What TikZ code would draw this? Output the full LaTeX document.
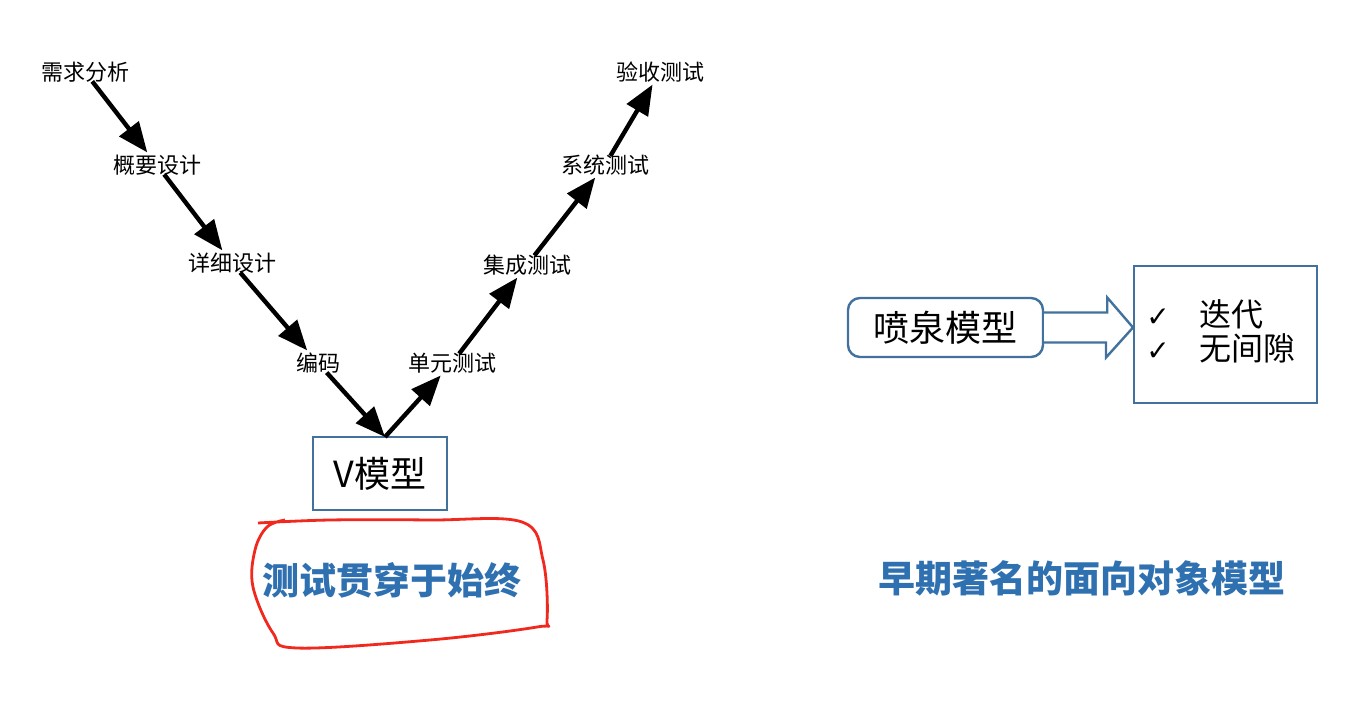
\documentclass[tikz,border=0pt]{standalone}
\usepackage{fontspec}
\setmainfont{Noto Sans CJK SC}
\newfontfamily\symfont{DejaVu Sans}
\usetikzlibrary{arrows.meta}
\definecolor{boxblue}{RGB}{65,113,156}
\definecolor{capblue}{RGB}{46,112,176}
\definecolor{penred}{RGB}{240,40,30}
\tikzset{
  stage/.style={font=\fontsize{11}{12}\selectfont, inner sep=1pt},
  arr/.style={line width=2.2pt, -{Triangle[length=15pt,width=12pt]}, shorten <=-2pt, shorten >=0pt},
  bluebox/.style={draw=boxblue, line width=1.2pt},
  caption/.style={font=\fontsize{18.5}{20}\selectfont\bfseries, text=capblue}
}
\begin{document}
\begin{tikzpicture}[x=0.5pt,y=-0.5pt]
\useasboundingbox (0,0) rectangle (1358,710);
% V model stages
\node[stage] (req) at (85,72) {需求分析};
\node[stage] (hl) at (157,165) {概要设计};
\node[stage] (dd) at (232,263) {详细设计};
\node[stage] (code) at (318,363) {编码};
\node[stage] (ut) at (452,363) {单元测试};
\node[stage] (it) at (527,265) {集成测试};
\node[stage] (st) at (605,165) {系统测试};
\node[stage] (at) at (660,72) {验收测试};
\node[bluebox, minimum width=67pt, minimum height=36.5pt, font=\fontsize{18}{20}\selectfont] (v) at (380,473.5) {V模型};
\coordinate (vtop) at (385,437);
\draw[arr] (req) -- (hl);
\draw[arr] (hl) -- (dd);
\draw[arr] (dd) -- (code);
\draw[arr] (code) -- (vtop);
\draw[arr, shorten <=0pt] (vtop) -- (ut);
\draw[arr] (ut) -- (it);
\draw[arr] (it) -- (st);
\draw[arr] (st) -- (at);
% caption with red freehand loop
\node[caption] (c1) at (392,580) {测试贯穿于始终};
\draw[penred, line width=1.4pt, line join=round] plot[smooth, tension=0.6] coordinates {
 (258,523) (330,520) (430,520) (522,522) (543,560) (547,620) (537,627)
 (430,640) (297,648) (273,633) (253,587) (255,550) (267,527) (285,520)};
% fountain model
\node[bluebox, rounded corners=6pt, minimum width=97.5pt, minimum height=29.5pt, font=\fontsize{18}{20}\selectfont] (f) at (945.5,327.5) {喷泉模型};
\node[bluebox, minimum width=91.5pt, minimum height=68.5pt, anchor=north west] (r) at (1133,265) {};
\node[anchor=west, font=\fontsize{16}{18}\selectfont, align=left, inner sep=0pt] (rt) at (1146,331) {{\symfont\fontsize{14}{14}\selectfont ✓}\hspace{15pt}迭代\\[-1pt]{\symfont\fontsize{14}{14}\selectfont ✓}\hspace{15pt}无间隙};
\coordinate (tip) at (f.east -| r.west);
\draw[boxblue, line width=1.2pt, fill=white, line join=miter]
  ([yshift=7.5pt]f.east) -- ++(63,0) -- ++(0,-15) -- (tip) -- ++(-27,30) -- ++(0,-15) -- ([yshift=-7.5pt]f.east);
\node[caption] (c2) at (1082,578) {早期著名的面向对象模型};
\end{tikzpicture}
\end{document}
